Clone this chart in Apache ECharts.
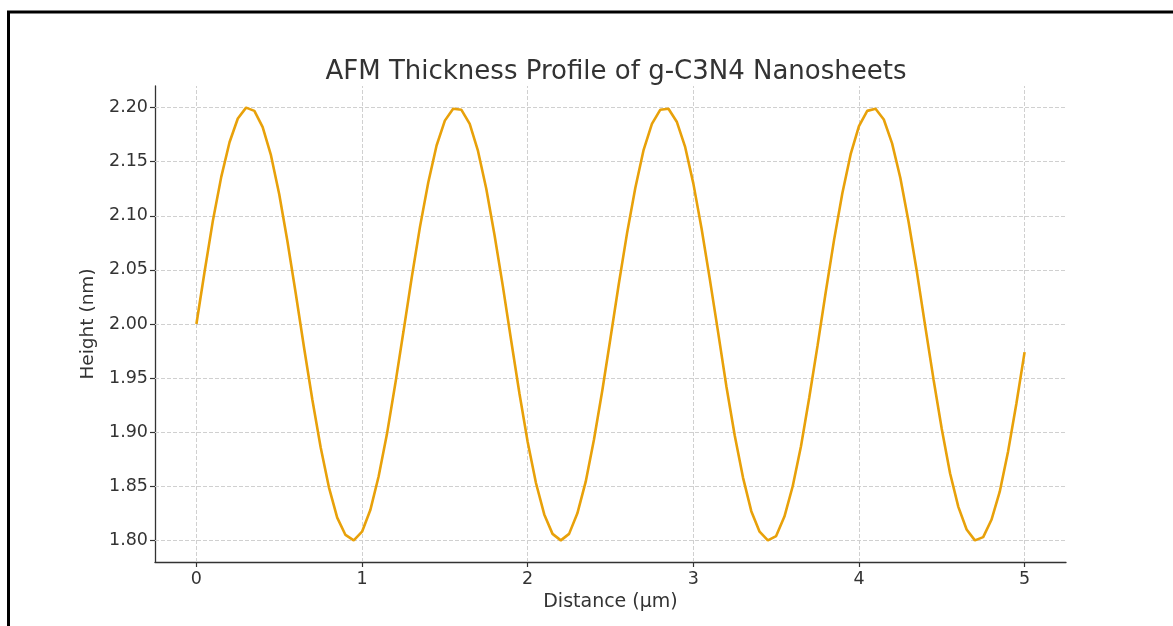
<!DOCTYPE html>
<html>
<head>
<meta charset="utf-8">
<script src="https://cdn.jsdelivr.net/npm/echarts@6/dist/echarts.min.js"></script>
<style>html,body{margin:0;padding:0;background:#fff;}#c{width:1173px;height:626px;}</style>
</head>
<body>
<div id="c"></div>
<script>
var distance = [0,0.05,0.1,0.15,0.2,0.25,0.3,0.35,0.4,0.45,0.5,0.55,0.6,0.65,0.7,0.75,0.8,0.85,0.9,0.95,
1,1.05,1.1,1.15,1.2,1.25,1.3,1.35,1.4,1.45,1.5,1.55,1.6,1.65,1.7,1.75,1.8,1.85,1.9,1.95,
2,2.05,2.1,2.15,2.2,2.25,2.3,2.35,2.4,2.45,2.5,2.55,2.6,2.65,2.7,2.75,2.8,2.85,2.9,2.95,
3,3.05,3.1,3.15,3.2,3.25,3.3,3.35,3.4,3.45,3.5,3.55,3.6,3.65,3.7,3.75,3.8,3.85,3.9,3.95,
4,4.05,4.1,4.15,4.2,4.25,4.3,4.35,4.4,4.45,4.5,4.55,4.6,4.65,4.7,4.75,4.8,4.85,4.9,4.95,5];
var height = [2.000,2.049,2.096,2.136,2.168,2.190,2.200,2.197,2.182,2.156,2.120,2.076,2.028,1.978,1.930,1.886,1.849,1.821,1.805,1.800,
1.808,1.828,1.859,1.898,1.944,1.993,2.043,2.090,2.131,2.165,2.188,2.199,2.198,2.185,2.160,2.125,2.082,2.035,1.985,1.936,
1.891,1.853,1.824,1.806,1.800,1.806,1.825,1.854,1.893,1.938,1.987,2.037,2.084,2.126,2.161,2.185,2.198,2.199,2.187,2.164,
2.130,2.088,2.041,1.992,1.942,1.897,1.858,1.827,1.808,1.800,1.804,1.822,1.850,1.887,1.932,1.980,2.030,2.078,2.121,2.157,
2.183,2.197,2.199,2.189,2.167,2.135,2.094,2.048,1.998,1.949,1.903,1.862,1.831,1.810,1.800,1.803,1.819,1.845,1.882,1.926,1.974];
var xTicks = [0,1,2,3,4,5];
var yTicks = [1.80,1.85,1.90,1.95,2.00,2.05,2.10,2.15,2.20];

var pts = distance.map(function(x,i){return [x,height[i]];});
var F = 'DejaVu Sans';
var chart = echarts.init(document.getElementById('c'), null, {renderer:'canvas'});
var gridStyle = {color:'#d0d0d0', width:1, type:[4,2]};
chart.setOption({
  animation:false,
  backgroundColor:'#ffffff',
  title:{text:'AFM Thickness Profile of g-C3N4 Nanosheets', left:611, textAlign:'center', top:54,
    textStyle:{fontFamily:F, fontSize:26, fontWeight:'normal', color:'#333333'}},
  grid:{left:155, right:107, top:86, bottom:64, containLabel:false},
  xAxis:{type:'value', min:-0.25, max:5.25,
    name:'Distance (μm)', nameLocation:'middle', nameGap:27,
    nameTextStyle:{fontFamily:F, fontSize:19, color:'#333333'},
    axisLine:{show:true, onZero:false, lineStyle:{color:'#333333', width:1.3}},
    axisTick:{show:true, inside:false, length:5, customValues:xTicks, lineStyle:{color:'#333333', width:1.2}},
    axisLabel:{show:true, customValues:xTicks, margin:8, fontFamily:F, fontSize:17.5, color:'#333333',
      formatter:function(v){return String(v);}},
    splitLine:{show:false}},
  yAxis:{type:'value', min:1.78, max:2.22,
    name:'Height (nm)', nameLocation:'middle', nameGap:57,
    nameTextStyle:{fontFamily:F, fontSize:18.5, color:'#333333'},
    axisLine:{show:true, onZero:false, lineStyle:{color:'#333333', width:1.3}},
    axisTick:{show:true, inside:false, length:5, customValues:yTicks, lineStyle:{color:'#333333', width:1.2}},
    axisLabel:{show:true, customValues:yTicks, margin:7, fontFamily:F, fontSize:17.5, color:'#333333',
      formatter:function(v){return v.toFixed(2);}},
    splitLine:{show:false}},
  graphic:[{type:'polyline', silent:true, z:100,
    shape:{points:[[8.5,630],[8.5,12],[1180,12]]},
    style:{stroke:'#000000', lineWidth:3, fill:null}}],
  series:[
    {type:'line', data:[], silent:true, z:1,
      markLine:{silent:true, symbol:['none','none'], label:{show:false}, lineStyle:gridStyle, animation:false,
        data:xTicks.map(function(v){return {xAxis:v};}).concat(yTicks.map(function(v){return {yAxis:v};}))}},
    {type:'line', data:pts, z:5, showSymbol:false, symbol:'none', smooth:false,
      lineStyle:{color:'#E8A10A', width:2.6}}
  ]
});
</script>
</body>
</html>
